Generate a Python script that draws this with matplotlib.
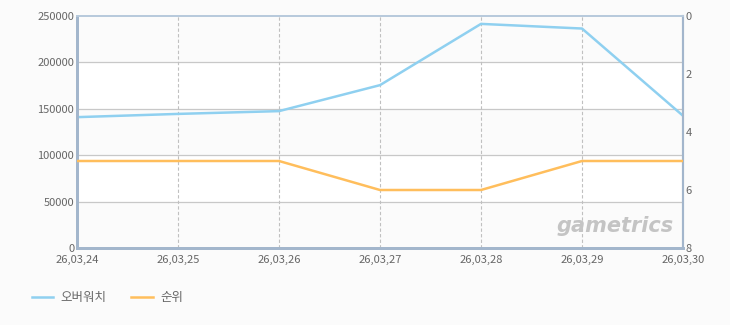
import matplotlib.pyplot as plt

plt.rcParams['font.family'] = ['Noto Sans CJK KR', 'DejaVu Sans']

dates = ['26,03,24', '26,03,25', '26,03,26', '26,03,27', '26,03,28', '26,03,29', '26,03,30']
viewers = [141000, 144500, 147500, 175500, 241500, 236500, 142500]
rank = [5, 5, 5, 6, 6, 5, 5]

blue = '#8fd0f0'
orange = '#ffbe5c'
txt = '#666666'

fig = plt.figure(figsize=(7.3, 3.25), dpi=100, facecolor='#fbfbfb')
ax = fig.add_axes([77 / 730, 1 - 248 / 325, 606 / 730, 232 / 325])
ax.set_facecolor('#ffffff')

x = list(range(len(dates)))
ax.set_xlim(0, len(dates) - 1)
ax.set_ylim(0, 250000)

# alternating bands
for lo in range(0, 250000, 100000):
    ax.axhspan(lo, lo + 50000, color='#fbfbfb', zorder=0)

for v in [50000, 100000, 150000, 200000]:
    ax.axhline(v, color='#c8c8c8', lw=0.9, zorder=1)
for xi in x[1:-1]:
    ax.axvline(xi, color='#c0c0c0', lw=0.8, ls=(0, (3, 2)), zorder=1)

ax.plot(x, viewers, color=blue, lw=1.8, zorder=3, label='오버워치')

ax2 = ax.twinx()
ax2.set_ylim(8, 0)
ax2.plot(x, rank, color=orange, lw=1.8, zorder=3, label='순위')

ax.set_xticks(x)
ax.set_xticklabels(dates)
ax.set_yticks(range(0, 250001, 50000))
ax2.set_yticks([0, 2, 4, 6, 8])
for a in (ax, ax2):
    a.tick_params(length=0, labelsize=8, colors=txt, pad=2)
ax.tick_params(axis='x', pad=5)

for a in (ax, ax2):
    a.spines['left'].set_color('#a3b6cc')
    a.spines['left'].set_linewidth(2)
    a.spines['bottom'].set_color('#a3b6cc')
    a.spines['bottom'].set_linewidth(2)
    a.spines['top'].set_color('#b8cadc')
    a.spines['top'].set_linewidth(1.4)
    a.spines['right'].set_color('#a3b6cc')
    a.spines['right'].set_linewidth(1.5)

ax.text(0.985, 0.05, 'gametrics', transform=ax.transAxes, ha='right', va='bottom',
        fontsize=15, fontstyle='italic', fontweight='bold', color='#c4c4c4',
        family='DejaVu Sans', zorder=2)

h1, l1 = ax.get_legend_handles_labels()
h2, l2 = ax2.get_legend_handles_labels()
fig.legend(h1 + h2, l1 + l2, loc='lower left', bbox_to_anchor=(0.028, 0.03), ncol=2,
           frameon=False, fontsize=9, labelcolor=txt, handlelength=1.7,
           columnspacing=2.0, handletextpad=0.6)

fig.savefig('out.png', dpi=100, facecolor=fig.get_facecolor())
